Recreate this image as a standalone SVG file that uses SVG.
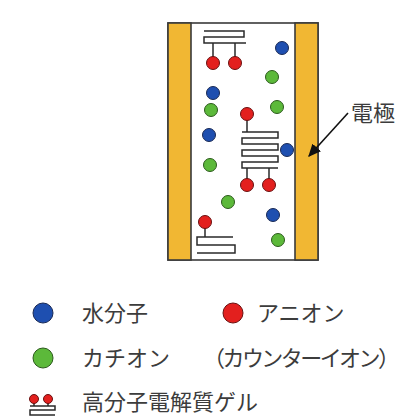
<svg xmlns="http://www.w3.org/2000/svg" width="405" height="418" viewBox="0 0 405 418">
  <style>
    .frame { fill: #ffffff; stroke: #3a3a3a; stroke-width: 1.6; }
    .electrode { fill: #F1B733; stroke: #3a3a3a; stroke-width: 1.6; }
    .chain { fill: none; stroke: #2a2a2a; stroke-width: 1.5; stroke-linejoin: miter; }
    .water { fill: #1E4FB0; stroke: #1a2a55; stroke-width: 1; }
    .anion { fill: #E3201E; stroke: #6a1010; stroke-width: 1; }
    .cation { fill: #5CB93A; stroke: #2c5a1c; stroke-width: 1; }
    .label { font-family: "Noto Sans CJK JP", "Noto Sans", sans-serif; font-size: 22px; fill: #3c3c3c; }
    .arrow { stroke: #111111; stroke-width: 1.6; fill: none; }
  </style>
  <defs>
    <marker id="head" viewBox="0 0 10 10" refX="9" refY="5" markerWidth="8" markerHeight="8" orient="auto">
      <path d="M0,0.5 L10,5 L0,9.5 Z" fill="#111111"/>
    </marker>
  </defs>

  <!-- cell with two electrodes -->
  <g id="cell">
    <rect class="frame" x="168" y="23" width="150" height="237"/>
    <rect class="electrode" x="168" y="23" width="23" height="237"/>
    <rect class="electrode" x="295" y="23" width="23" height="237"/>
  </g>

  <!-- polymer electrolyte chains -->
  <g id="polymer-top">
    <path class="chain" d="M204,31 H244 V37 H204 V43 H246 M213,43 V57 M235,43 V57"/>
    <circle class="anion" cx="213" cy="63" r="6.5"/>
    <circle class="anion" cx="235" cy="63" r="6.5"/>
  </g>
  <g id="polymer-middle">
    <path class="chain" d="M247,120 V132 M242,132 H278 V138 H242 V144 H278 V150 H242 V156 H278 V162 H242 V168 H278 M247,168 V179 M269,168 V179"/>
    <circle class="anion" cx="247" cy="114" r="6.5"/>
    <circle class="anion" cx="247" cy="185" r="6.5"/>
    <circle class="anion" cx="269" cy="185" r="6.5"/>
  </g>
  <g id="polymer-bottom">
    <path class="chain" d="M205,228 V237 M233,237 H197 V245 H235 V253 H197"/>
    <circle class="anion" cx="205" cy="222" r="6.5"/>
  </g>

  <!-- free ions and water -->
  <g id="particles">
    <circle class="water" cx="282" cy="48" r="6.5"/>
    <circle class="cation" cx="272" cy="77" r="6.5"/>
    <circle class="water" cx="213" cy="93" r="6.5"/>
    <circle class="cation" cx="211" cy="110" r="6.5"/>
    <circle class="cation" cx="277" cy="107" r="6.5"/>
    <circle class="water" cx="209" cy="135" r="6.5"/>
    <circle class="water" cx="287" cy="150" r="6.5"/>
    <circle class="cation" cx="210" cy="165" r="6.5"/>
    <circle class="cation" cx="228" cy="202" r="6.5"/>
    <circle class="water" cx="273" cy="215" r="6.5"/>
    <circle class="cation" cx="278" cy="240" r="6.5"/>
  </g>

  <!-- electrode callout -->
  <g id="connectors">
    <line class="arrow" x1="348" y1="113" x2="309" y2="156" marker-end="url(#head)"/>
  </g>
  <g id="electrode-label">
    <text class="label" x="351" y="121">電極</text>
  </g>

  <!-- legend -->
  <g id="legend-water">
    <circle class="water" cx="43" cy="313" r="10"/>
    <text class="label" x="82" y="321">水分子</text>
  </g>
  <g id="legend-anion">
    <circle class="anion" cx="233" cy="313" r="10"/>
    <text class="label" x="257" y="321">アニオン</text>
  </g>
  <g id="legend-cation">
    <circle class="cation" cx="43" cy="358" r="10"/>
    <text class="label" y="366"><tspan x="82">カチオン</tspan><tspan x="203" textLength="197" lengthAdjust="spacing">（カウンターイオン）</tspan></text>
  </g>
  <g id="legend-polymer">
    <path class="chain" d="M34,403 V406 M48,403 V406 M30,406 H55 V410 H30 V415 H55"/>
    <circle class="anion" cx="34" cy="399" r="4.5"/>
    <circle class="anion" cx="48" cy="399" r="4.5"/>
    <text class="label" x="82" y="410">高分子電解質ゲル</text>
  </g>
</svg>
